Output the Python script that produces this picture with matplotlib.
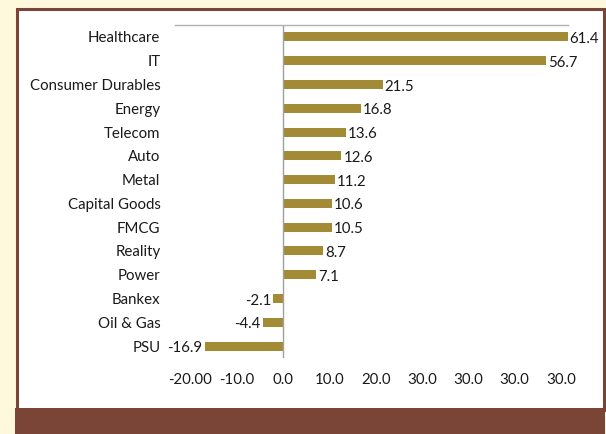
import matplotlib
matplotlib.use("Agg")
import matplotlib.pyplot as plt
from matplotlib.patches import Rectangle

categories = ["Healthcare", "IT", "Consumer Durables", "Energy", "Telecom", "Auto",
              "Metal", "Capital Goods", "FMCG", "Reality", "Power", "Bankex",
              "Oil & Gas", "PSU"]
values = [61.4, 56.7, 21.5, 16.8, 13.6, 12.6, 11.2, 10.6, 10.5, 8.7, 7.1, -2.1, -4.4, -16.9]
tick_values = [-20, -10, 0, 10, 20, 30, 40, 50, 60]
tick_labels = ["-20.00", "-10.0", "0.0", "10.0", "20.0", "30.0", "30.0", "30.0", "30.0"]

W, H = 606, 434
fig = plt.figure(figsize=(W / 100, H / 100), dpi=100)
fig.patch.set_facecolor("#FEF8DC")
plt.rcParams['font.family'] = ['Lato', 'DejaVu Sans']
FS = 10.8
TXT = "#1A1A1A"

def px(x0, y0, x1, y1):
    return (x0 / W, 1 - y1 / H, (x1 - x0) / W, (y1 - y0) / H)

brown = "#7A4536"
x, y, w, h = px(16.5, 8.5, 603.5, 410)
fig.add_artist(Rectangle((x, y), w, h, transform=fig.transFigure,
                         facecolor="white", edgecolor=brown, linewidth=2.2, zorder=-10))
x, y, w, h = px(15, 408, 605, 434)
fig.add_artist(Rectangle((x, y), w, h, transform=fig.transFigure,
                         facecolor=brown, edgecolor="none", zorder=-9))

ax = fig.add_axes(px(175, 25, 568, 358))
ax.set_zorder(1)
ax.set_facecolor("none")
bar_color = "#A38A34"
pos = list(range(len(categories)))
ax.barh(pos, values, height=0.38, color=bar_color)
ax.set_ylim(len(categories) - 0.5, -0.5)
ax.set_xlim(-23.3, 61.5)
ax.axvline(0, color="#A0A0A0", linewidth=1.0)

for s in ["left", "right", "bottom"]:
    ax.spines[s].set_visible(False)
ax.spines["top"].set_color("#B0B0B0")
ax.spines["top"].set_linewidth(1.0)

ax.set_yticks(pos)
ax.set_yticklabels(categories, fontsize=FS, color=TXT)
ax.tick_params(axis="y", length=0, pad=10.5)
ax.set_xticks(tick_values)
ax.set_xticklabels(tick_labels, fontsize=FS, color=TXT)
ax.tick_params(axis="x", length=0, pad=11)

for p, v in zip(pos, values):
    if v >= 0:
        ax.annotate(f"{v:.1f}", (v, p), xytext=(1.5, -1.5), textcoords="offset points",
                    ha="left", va="center", fontsize=FS, color=TXT)
    else:
        ax.annotate(f"{v:.1f}", (v, p), xytext=(-1.5, -1.5), textcoords="offset points",
                    ha="right", va="center", fontsize=FS, color=TXT)

fig.savefig("out.png", dpi=100, facecolor=fig.get_facecolor())
